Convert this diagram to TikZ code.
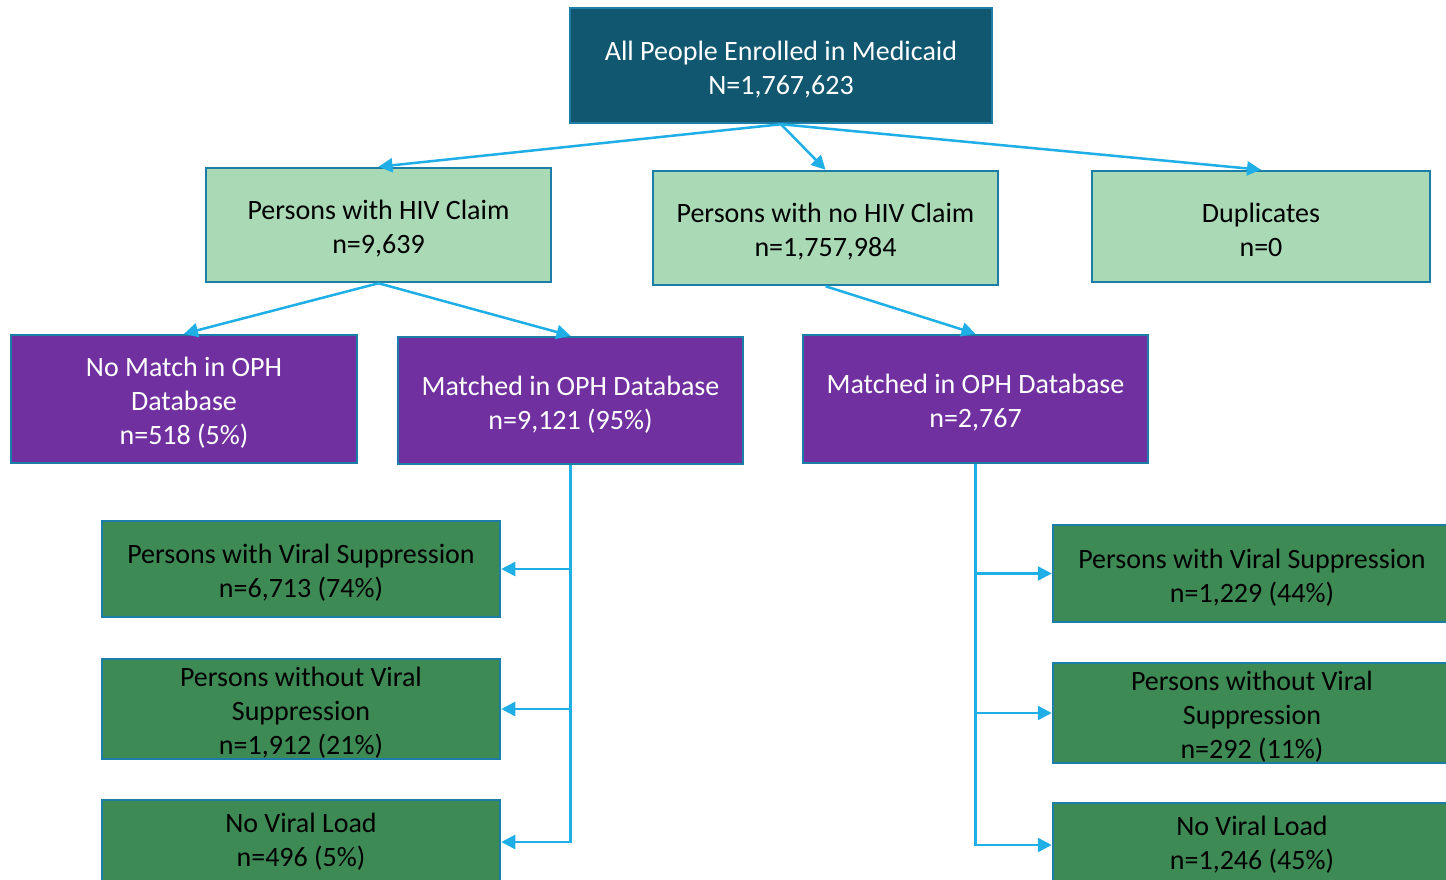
\documentclass[tikz,border=0pt]{standalone}
\usepackage{fontspec}
\setmainfont{Carlito}
\usetikzlibrary{arrows.meta}
\definecolor{topfill}{HTML}{10576F}
\definecolor{boxborder}{HTML}{1C7DA6}
\definecolor{lightgreen}{HTML}{A9D9B5}
\definecolor{purplefill}{HTML}{7030A0}
\definecolor{greenfill}{HTML}{3E8A55}
\definecolor{arrowblue}{HTML}{1FAEE6}
\newcommand{\topstrut}{\rule{0pt}{27pt}}
\tikzset{
  box/.style={draw=boxborder, line width=2.5pt, rectangle, align=center, inner sep=0pt,
    font=\fontsize{28}{34}\selectfont},
  topbox/.style={box, fill=topfill, text=white},
  lgbox/.style={box, fill=lightgreen, text=black},
  pbox/.style={box, fill=purplefill, text=white},
  gbox/.style={box, fill=greenfill, text=black},
  arr/.style={draw=arrowblue, line width=2.5pt, -{Triangle[length=14pt,width=14pt]}},
}
\begin{document}
\begin{tikzpicture}[x=1pt,y=-1pt]
\useasboundingbox (0,0) rectangle (1446,879);
\clip (0,0) rectangle (1446,879);
\node[topbox, minimum width=422, minimum height=115] (top) at (781,65.5) {\topstrut All People Enrolled in Medicaid\\N=1,767,623};
\node[lgbox, minimum width=345, minimum height=114] (hiv) at (378.5,225) {\topstrut Persons with HIV Claim\\n=9,639};
\node[lgbox, minimum width=345, minimum height=114] (nohiv) at (825.5,228) {\topstrut Persons with no HIV Claim\\n=1,757,984};
\node[lgbox, minimum width=338, minimum height=111] (dup) at (1261,226.5) {\topstrut Duplicates\\n=0};
\node[pbox, minimum width=346, minimum height=128] (nomatch) at (184,399) {\topstrut No Match in OPH\\Database\\n=518 (5\%)};
\node[pbox, minimum width=345, minimum height=127] (mleft) at (570.5,400.5) {\topstrut Matched in OPH Database\\n=9,121 (95\%)};
\node[pbox, minimum width=345, minimum height=128] (mright) at (975.5,399) {\topstrut Matched in OPH Database\\n=2,767};
\node[gbox, minimum width=398, minimum height=96] (l1) at (301,569) {\topstrut Persons with Viral Suppression\\n=6,713 (74\%)};
\node[gbox, minimum width=398, minimum height=100] (l2) at (301,709) {\topstrut Persons without Viral\\Suppression\\n=1,912 (21\%)};
\node[gbox, minimum width=398, minimum height=84] (l3) at (301,842) {No Viral Load\\n=496 (5\%)};
\node[gbox, minimum width=398, minimum height=97] (r1) at (1252,573.5) {\topstrut Persons with Viral Suppression\\n=1,229 (44\%)};
\node[gbox, minimum width=398, minimum height=100] (r2) at (1252,713) {\topstrut Persons without Viral\\Suppression\\n=292 (11\%)};
\node[gbox, minimum width=398, minimum height=84] (r3) at (1252,845) {No Viral Load\\n=1,246 (45\%)};
\draw[arr] (top.south) -- (hiv.north);
\draw[arr] (top.south) -- (nohiv.north);
\draw[arr] (top.south) -- (dup.north);
\draw[arr] (hiv.south) -- (nomatch.north);
\draw[arr] (hiv.south) -- (mleft.north);
\draw[arr] (nohiv.south) -- (mright.north);
\draw[arr] (mleft.south) |- (l1.east);
\draw[arr] (mleft.south) |- (l2.east);
\draw[arr] (mleft.south) |- (l3.east);
\draw[arr] (mright.south) |- (r1.west);
\draw[arr] (mright.south) |- (r2.west);
\draw[arr] (mright.south) |- (r3.west);
\end{tikzpicture}
\end{document}
